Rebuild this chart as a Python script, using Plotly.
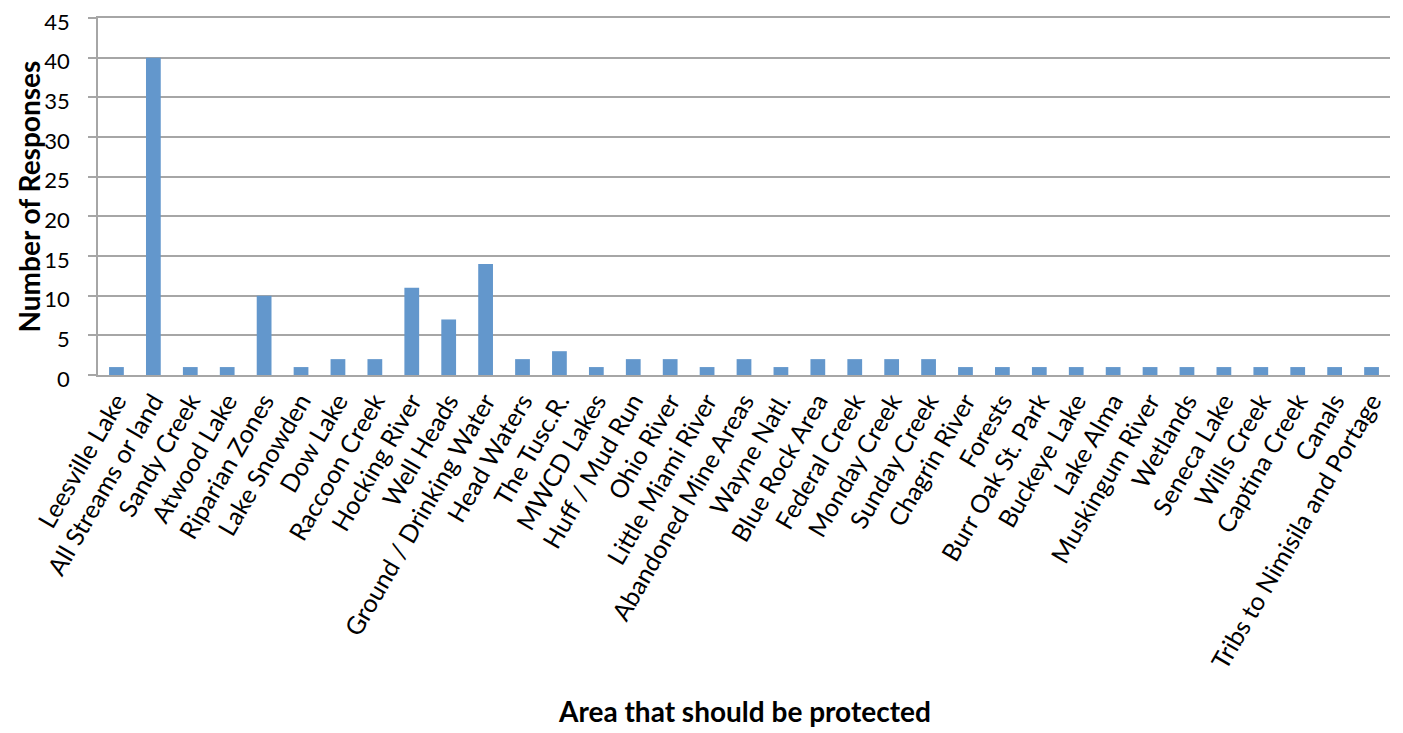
import plotly.graph_objects as go

categories = [
    "Leesville Lake", "All Streams or land", "Sandy Creek", "Atwood Lake",
    "Riparian Zones", "Lake Snowden", "Dow Lake", "Raccoon Creek",
    "Hocking River", "Well Heads", "Ground / Drinking Water", "Head Waters",
    "The Tusc.R.", "MWCD Lakes", "Huff / Mud Run", "Ohio River",
    "Little Miami River", "Abandoned Mine Areas", "Wayne Natl.", "Blue Rock Area",
    "Federal Creek", "Monday Creek", "Sunday Creek", "Chagrin River",
    "Forests", "Burr Oak St. Park", "Buckeye Lake", "Lake Alma",
    "Muskingum River", "Wetlands", "Seneca Lake", "Wills Creek",
    "Captina Creek", "Canals", "Tribs to Nimisila and Portage",
]
responses = [1, 40, 1, 1, 10, 1, 2, 2, 11, 7, 14, 2, 3, 1, 2, 2, 1, 2, 1, 2,
             2, 2, 2, 1, 1, 1, 1, 1, 1, 1, 1, 1, 1, 1, 1]
y_ticks = [0, 5, 10, 15, 20, 25, 30, 35, 40, 45]

FONT = "Lato, Calibri, Carlito, sans-serif"
GRID = "#a6a6a6"

# page has ~8px body margin; figure sized to fit window
W, H = 1395, 725
L, T, R, B = 90, 10, 13, 358
PH = H - T - B

fig = go.Figure(go.Bar(x=categories, y=responses, marker=dict(color="#6397CC", line_width=0)))

fig.update_layout(
    width=W, height=H,
    paper_bgcolor="white", plot_bgcolor="white",
    margin=dict(l=L, r=R, t=T, b=B, autoexpand=False),
    bargap=0.6,
    showlegend=False,
    font=dict(family=FONT, color="black"),
    annotations=[
        dict(text="<b>Area that should be protected</b>", xref="paper", yref="paper",
             x=0.5, y=-336 / PH, xanchor="center", yanchor="middle",
             showarrow=False, font=dict(size=28, family=FONT, color="black")),
        dict(text="<b>Number of Responses</b>", xref="paper", yref="paper",
             x=-(L - 20) / (W - L - R), y=0.5, xanchor="center", yanchor="middle", textangle=-90,
             showarrow=False, font=dict(size=28, family=FONT, color="black")),
    ],
)
fig.update_xaxes(
    tickangle=-60, tickfont=dict(size=25, family=FONT, color="black"),
    showline=True, linecolor=GRID, linewidth=1.5, mirror=True, showgrid=False, ticks="",
    automargin=False,
)
fig.update_yaxes(
    range=[0, 45], tickvals=y_ticks, tickfont=dict(size=22, family=FONT, color="black"),
    showgrid=True, gridcolor=GRID, gridwidth=1.5,
    showline=True, linecolor=GRID, linewidth=1.5,
    ticks="outside", ticklen=8, tickcolor=GRID, tickwidth=1.5,
    ticklabelstandoff=14, ticklabelshift=4, ticklabeloverflow="allow",
    automargin=False, zeroline=False,
)

fig.write_html("out.html")
